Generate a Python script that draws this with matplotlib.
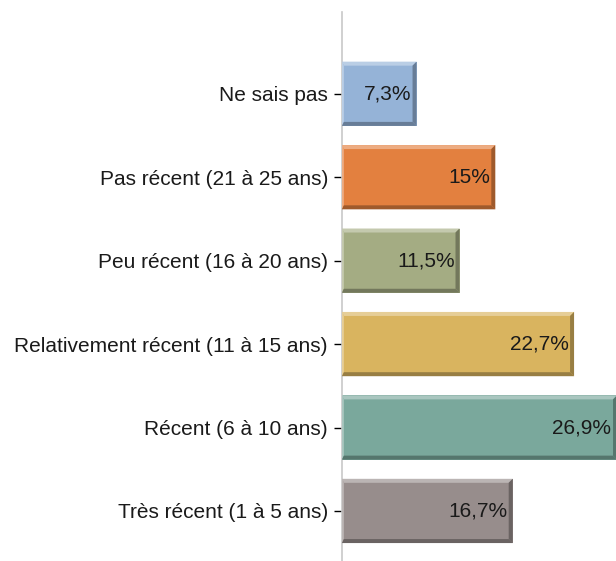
import matplotlib.pyplot as plt
from matplotlib.patches import Polygon
from matplotlib.colors import to_rgb

plt.rcParams['font.family'] = ['Liberation Sans', 'DejaVu Sans']

categories = ["Très récent (1 à 5 ans)", "Récent (6 à 10 ans)",
              "Relativement récent (11 à 15 ans)", "Peu récent (16 à 20 ans)",
              "Pas récent (21 à 25 ans)", "Ne sais pas"]
values = [16.7, 26.9, 22.7, 11.5, 15.0, 7.3]
labels = ["16,7%", "26,9%", "22,7%", "11,5%", "15%", "7,3%"]
colors = ["#978D8C", "#7AA89C", "#D9B45F", "#A4AC83", "#E3803F", "#95B3D7"]


def shade(c, f):
    r, g, b = to_rgb(c)
    if f > 1:
        return tuple(x + (1 - x) * (f - 1) for x in (r, g, b))
    return tuple(x * f for x in (r, g, b))


fig = plt.figure(figsize=(6.16, 5.61), dpi=100)
ax = fig.add_axes([0.555, 0.0, 0.445, 0.9786])

bars = ax.barh(range(len(values)), values, height=0.77, color=colors,
               edgecolor='none', zorder=2)
ax.set_xlim(0, 26.8)
ax.set_ylim(-0.6, 5.98)
fig.canvas.draw()

# bevel edges, thickness in pixels converted to data units
bbox = ax.get_window_extent()
px_x = 26.8 / bbox.width
px_y = 6.58 / bbox.height
tx, ty = 4 * px_x, 4 * px_y
for b, c in zip(bars, colors):
    x0, y0 = b.get_x(), b.get_y()
    x1, y1 = x0 + b.get_width(), y0 + b.get_height()
    light = shade(c, 1.35)
    dark = shade(c, 0.7)
    ax.add_patch(Polygon([(x0, y1), (x1, y1), (x1 - tx, y1 - ty), (x0 + tx * 0.5, y1 - ty)],
                         closed=True, color=light, lw=0, zorder=3))
    ax.add_patch(Polygon([(x0, y0), (x0, y1), (x0 + tx * 0.5, y1 - ty), (x0 + tx * 0.5, y0 + ty)],
                         closed=True, color=light, lw=0, zorder=3))
    ax.add_patch(Polygon([(x1, y1), (x1, y0), (x1 - tx, y0 + ty), (x1 - tx, y1 - ty)],
                         closed=True, color=dark, lw=0, zorder=3))
    ax.add_patch(Polygon([(x0, y0), (x1, y0), (x1 - tx, y0 + ty), (x0 + tx * 0.5, y0 + ty)],
                         closed=True, color=dark, lw=0, zorder=3))

for i, (v, lab) in enumerate(zip(values, labels)):
    ax.text(min(v, 26.8) - 5 * px_x, i, lab, ha='right', va='center',
            fontsize=15, color='#1a1a1a', zorder=4)

ax.set_yticks(range(len(categories)))
ax.set_yticklabels(categories, fontsize=15, color='#1a1a1a')
ax.tick_params(axis='y', length=6, width=1, color='black', pad=4)
ax.set_xticks([])
for s in ['top', 'right', 'bottom']:
    ax.spines[s].set_visible(False)
ax.spines['left'].set_color('#c8c8c8')
ax.spines['left'].set_linewidth(1.2)

plt.savefig('out.png', dpi=100)
